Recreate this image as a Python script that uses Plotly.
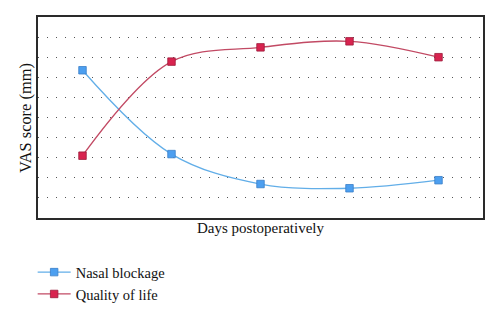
import plotly.graph_objects as go

days = [1, 2, 3, 4, 5]
nasal_blockage = [7.35, 3.18, 1.69, 1.48, 1.88]
quality_of_life = [3.1, 7.78, 8.49, 8.79, 8.0]

blue_line = "#62aee8"
blue_fill = "#4c9ff0"
red_line = "#c24a64"
red_fill = "#d8234f"

fig = go.Figure()
fig.add_trace(go.Scatter(
    x=days, y=nasal_blockage, name="Nasal blockage",
    mode="lines+markers",
    line=dict(color=blue_line, width=1.3, shape="spline", smoothing=1.0),
    marker=dict(symbol="square", size=7.5, color=blue_fill,
                line=dict(color="#3a7fc8", width=0.8)),
))
fig.add_trace(go.Scatter(
    x=days, y=quality_of_life, name="Quality of life",
    mode="lines+markers",
    line=dict(color=red_line, width=1.3, shape="spline", smoothing=1.0),
    marker=dict(symbol="square", size=7.5, color=red_fill,
                line=dict(color="#9c1a3a", width=0.8)),
))

# vertical axis label placed just left of the frame
fig.add_annotation(
    text="VAS score (mm)", textangle=-90,
    xref="paper", yref="paper", x=0, y=0.5,
    xanchor="right", yanchor="middle", xshift=-1,
    showarrow=False, font=dict(size=16.4),
)

fig.update_layout(
    width=500, height=321,
    margin=dict(l=38, r=17, t=17, b=103, autoexpand=False),
    paper_bgcolor="white", plot_bgcolor="white",
    font=dict(family="Liberation Serif", size=15, color="#111111"),
    showlegend=True,
    legend=dict(x=-0.012, y=-0.19, xanchor="left", yanchor="top",
                font=dict(size=14.5), tracegroupgap=0, itemwidth=33,
                bgcolor="rgba(0,0,0,0)"),
    xaxis=dict(range=[0.5, 5.5], showticklabels=False, ticks="",
               showgrid=False, zeroline=False, automargin=False,
               showline=True, linecolor="#2a2a2a", linewidth=1.6, mirror=True,
               title=dict(text="Days postoperatively", standoff=4,
                          font=dict(size=15))),
    yaxis=dict(range=[0, 10], dtick=1, showticklabels=False, ticks="",
               showgrid=True, gridcolor="#555555", griddash="1.3px,7.7px",
               gridwidth=1.1, zeroline=False, automargin=False,
               showline=True, linecolor="#2a2a2a", linewidth=1.6, mirror=True),
)

fig.write_html("out.html")
